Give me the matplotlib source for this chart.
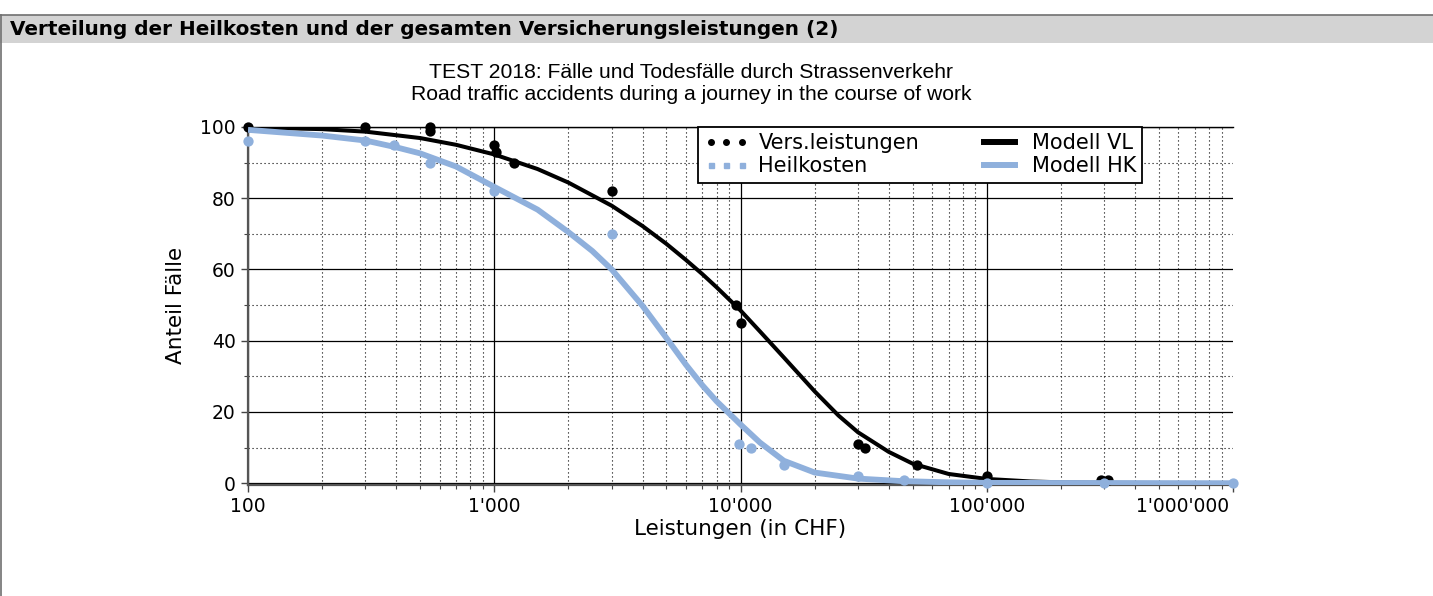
import matplotlib
matplotlib.use('Agg')
import matplotlib.pyplot as plt
from matplotlib.lines import Line2D
from matplotlib.patches import Rectangle
from matplotlib.ticker import LogLocator, NullFormatter, FixedLocator
import matplotlib.transforms as mtransforms

# ---------------- data ----------------
header = "Verteilung der Heilkosten und der gesamten Versicherungsleistungen (2)"
title1 = "TEST 2018: Fälle und Todesfälle durch Strassenverkehr"
title2 = "Road traffic accidents during a journey in the course of work"
xlabel = "Leistungen (in CHF)"
ylabel = "Anteil Fälle"

x_ticks = [100, 1000, 10000, 100000, 1000000]
x_tick_labels = ["100", "1'000", "10'000", "100'000", "1'000'000"]
y_ticks = [0, 20, 40, 60, 80, 100]
y_minor_ticks = [10, 30, 50, 70, 90]

# observed points
vl_x = [100, 300, 550, 550, 1000, 1020, 1200, 3000, 9600, 10000, 30000, 32000,
        52000, 100000, 290000, 310000]
vl_y = [100, 100, 100, 99, 95, 93, 90, 82, 50, 45, 11, 10, 5, 2, 1, 1]

hk_x = [100, 300, 390, 550, 1000, 3000, 9900, 11000, 15000, 30000, 46000,
        100000, 300000, 1000000]
hk_y = [96, 96, 95, 90, 82, 70, 11, 10, 5, 2, 1, 0, 0, 0]

# model curves
mvl_x = [100, 200, 300, 500, 700, 1000, 1500, 2000, 3000, 4000, 5000, 6000,
         7000, 8000, 10000, 12000, 15000, 20000, 25000, 30000, 40000, 50000,
         70000, 100000, 150000, 200000, 300000, 1000000]
mvl_y = [99.9, 99.4, 98.7, 96.9, 95.0, 92.3, 88.2, 84.4, 77.9, 72.2, 67.2, 62.7,
         58.7, 55.0, 48.5, 42.6, 35.3, 25.8, 19.0, 14.3, 8.8, 5.5,
         2.6, 1.2, 0.5, 0.25, 0.1, 0.0]

mhk_x = [100, 200, 300, 400, 500, 700, 1000, 1500, 2000, 2500, 3000, 4000,
         5000, 6000, 7000, 8000, 10000, 12000, 15000, 20000, 30000, 45000,
         70000, 100000, 1000000]
mhk_y = [99.2, 97.6, 96.2, 94.3, 92.6, 88.9, 83.2, 76.8, 70.5, 65.2, 60.0, 49.8,
         40.8, 33.3, 27.5, 23.0, 16.5, 11.4, 6.3, 3.0, 1.3, 0.6,
         0.25, 0.1, 0.0]

BLUE = "#8fb0dc"

# ---------------- figure ----------------
W, H = 1433, 596
fig = plt.figure(figsize=(W / 100, H / 100), dpi=100)
fig.patch.set_facecolor('white')

# header band and frame
fig.patches.append(Rectangle((0, 1 - 43 / H), 1, 28 / H, transform=fig.transFigure,
                             facecolor='#d3d3d3', edgecolor='none', zorder=0))
fig.lines.append(Line2D([0, 1], [1 - 15 / H] * 2, transform=fig.transFigure,
                        color='#707070', lw=1.2))
fig.lines.append(Line2D([0.7 / W] * 2, [0, 1 - 15 / H], transform=fig.transFigure,
                        color='#707070', lw=1.2))
fig.text(10 / W, 1 - 29.5 / H, header, fontweight='bold', fontsize=14.4,
         family='DejaVu Sans', ha='left', va='center')

fig.text(691 / W, 1 - 73 / H, title1, ha='center', va='center',
         family='Liberation Sans', fontsize=15.2)
fig.text(691 / W, 1 - 95 / H, title2, ha='center', va='center',
         family='Liberation Sans', fontsize=15.2)

ax = fig.add_axes([248 / W, 1 - 485 / H, 985 / W, 358 / H])
ax.set_xscale('log')

ax.scatter(vl_x, vl_y, s=55, color='black', zorder=3, clip_on=False, linewidths=0)
ax.plot(mvl_x, mvl_y, color='black', lw=2.9, zorder=4, solid_capstyle='butt',
        solid_joinstyle='round')
ax.scatter(hk_x, hk_y, s=55, color=BLUE, zorder=5, clip_on=False, linewidths=0)
ax.plot(mhk_x, mhk_y, color=BLUE, lw=4.2, zorder=6, solid_capstyle='butt',
        solid_joinstyle='round')

ax.set_xlim(100, 1000000)
ax.set_ylim(-0.5, 100)

ax.xaxis.set_major_locator(FixedLocator(x_ticks))
ax.set_xticklabels(x_tick_labels)
ax.xaxis.set_minor_locator(LogLocator(base=10, subs=range(2, 10), numticks=20))
ax.xaxis.set_minor_formatter(NullFormatter())
ax.set_yticks(y_ticks)
ax.set_yticks(y_minor_ticks, minor=True)

ax.grid(True, which='major', color='black', lw=0.9, ls='-')
ax.grid(True, which='minor', color='black', lw=0.8, ls=(0, (1, 2.6)))
ax.set_axisbelow(True)

ax.tick_params(which='major', direction='out', length=5, width=1, color='#444444',
               labelsize=13.5, pad=4)
ax.tick_params(which='minor', direction='out', length=3, width=0.8, color='#444444')

ax.spines['right'].set_visible(False)
ax.spines['top'].set_color('black')
ax.spines['top'].set_linewidth(1)
for s in ['left', 'bottom']:
    ax.spines[s].set_color('#555555')
    ax.spines[s].set_linewidth(1.6)

labels = ax.get_xticklabels()
labels[-1].set_ha('right')
labels[-1].set_transform(labels[-1].get_transform() +
                         mtransforms.ScaledTranslation(-4 / 100, 0, fig.dpi_scale_trans))
ax.xaxis.get_major_ticks()[-1].gridline.set_visible(False)

fig.text(740 / W, 1 - 529 / H, xlabel, ha='center', va='center', fontsize=15.5)
fig.text(176 / W, 1 - 305 / H, ylabel, ha='center', va='center', fontsize=15.5,
         rotation=90)

handles = [
    Line2D([], [], ls='none', marker='o', ms=4, color='black'),
    Line2D([], [], ls='none', marker='s', ms=3.6, color=BLUE),
    Line2D([], [], color='black', lw=4.3),
    Line2D([], [], color=BLUE, lw=4.3),
]
leg_labels = ["Vers.leistungen", "Heilkosten", "Modell VL", "Modell HK"]
leg = ax.legend(handles, leg_labels, ncol=2, numpoints=3, loc='upper left',
                bbox_to_anchor=((698 - 248) / 985, 1.0), borderaxespad=0,
                fontsize=15, frameon=True, fancybox=False, framealpha=1,
                handlelength=2.1, handletextpad=0.5, columnspacing=2.8,
                labelspacing=0.15, borderpad=0.3)
leg.get_frame().set_edgecolor('black')
leg.get_frame().set_linewidth(1.3)
leg.set_zorder(10)

fig.savefig('out.png', dpi=100)
